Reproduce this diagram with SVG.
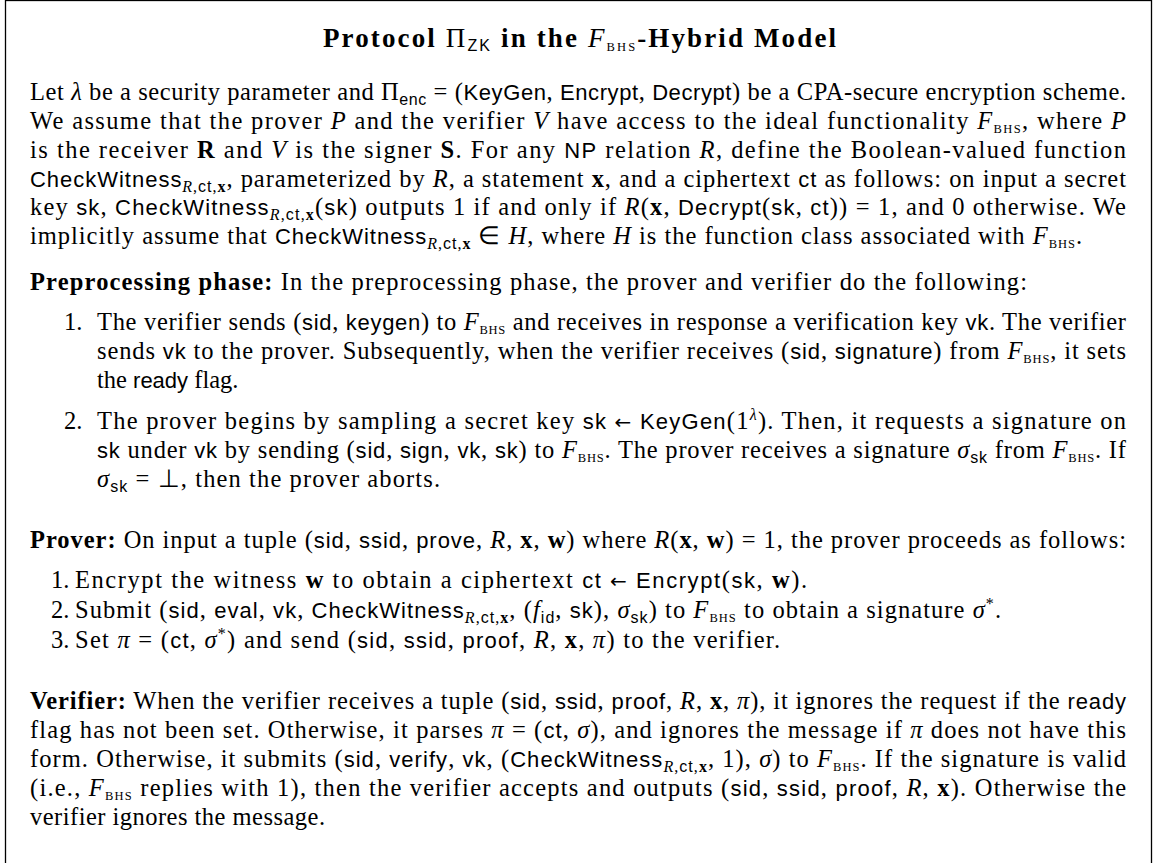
<svg xmlns="http://www.w3.org/2000/svg" width="1155" height="863" viewBox="0 0 1155 863">
<style>
text { font-family: "Liberation Serif", serif; font-size: 24.5px; fill: #000; }
.b { font-weight: bold; }
.n { font-weight: normal; }
.i { font-style: italic; }
.sf { font-family: "Liberation Sans", sans-serif; font-size: 22px; }
.ss { font-family: "Liberation Sans", sans-serif; }
.sub { font-size: 16px; }
.bhs { font-family: "Liberation Serif", serif; font-size: 12.5px; font-style: normal; }
.ar { font-family: "DejaVu Sans", sans-serif; font-size: 20px; }
.ttl { font-size: 27px; }
</style>
<rect x="0" y="0" width="1155" height="863" fill="#fff"/>
<rect id="frame" x="5.5" y="0.5" width="1146" height="900" fill="none" stroke="#000" stroke-width="1.3"/>

<g id="title">
<text x="323" y="47" class="b ttl" textLength="513" lengthAdjust="spacing">Protocol <tspan class="n">Π</tspan><tspan class="ss sub n" dy="4">ZK</tspan><tspan dy="-4"> in the </tspan><tspan class="i n">F</tspan><tspan class="bhs n" dy="4">BHS</tspan><tspan dy="-4">-Hybrid Model</tspan></text>
</g>

<g id="body" transform="translate(0,1.5)">
<g id="intro">
<text x="30" y="98" textLength="1096" lengthAdjust="spacing">Let <tspan class="i">λ</tspan> be a security parameter and Π<tspan class="ss sub" dy="5">enc</tspan><tspan dy="-5"> = (</tspan><tspan class="sf">KeyGen</tspan>, <tspan class="sf">Encrypt</tspan>, <tspan class="sf">Decrypt</tspan>) be a CPA-secure encryption scheme.</text>
<text x="30" y="127" textLength="1096" lengthAdjust="spacing">We assume that the prover <tspan class="i">P</tspan> and the verifier <tspan class="i">V</tspan> have access to the ideal functionality <tspan class="i">F</tspan><tspan class="bhs" dy="4">BHS</tspan><tspan dy="-4">, where </tspan><tspan class="i">P</tspan></text>
<text x="30" y="156" textLength="1096" lengthAdjust="spacing">is the receiver <tspan class="b">R</tspan> and <tspan class="i">V</tspan> is the signer <tspan class="b">S</tspan>. For any <tspan class="sf">NP</tspan> relation <tspan class="i">R</tspan>, define the Boolean-valued function</text>
<text x="30" y="185" textLength="1096" lengthAdjust="spacing"><tspan class="sf">CheckWitness</tspan><tspan class="sub" dy="5"><tspan class="i">R</tspan>,<tspan class="ss">ct</tspan>,<tspan class="b">x</tspan></tspan><tspan dy="-5">, parameterized by </tspan><tspan class="i">R</tspan>, a statement <tspan class="b">x</tspan>, and a ciphertext <tspan class="sf">ct</tspan> as follows: on input a secret</text>
<text x="30" y="213" textLength="1096" lengthAdjust="spacing">key <tspan class="sf">sk</tspan>, <tspan class="sf">CheckWitness</tspan><tspan class="sub" dy="5"><tspan class="i">R</tspan>,<tspan class="ss">ct</tspan>,<tspan class="b">x</tspan></tspan><tspan dy="-5">(</tspan><tspan class="sf">sk</tspan>) outputs 1 if and only if <tspan class="i">R</tspan>(<tspan class="b">x</tspan>, <tspan class="sf">Decrypt</tspan>(<tspan class="sf">sk</tspan>, <tspan class="sf">ct</tspan>)) = 1, and 0 otherwise. We</text>
<text x="30" y="242" textLength="1052" lengthAdjust="spacing">implicitly assume that <tspan class="sf">CheckWitness</tspan><tspan class="sub" dy="5"><tspan class="i">R</tspan>,<tspan class="ss">ct</tspan>,<tspan class="b">x</tspan></tspan><tspan dy="-5"> ∈ </tspan><tspan class="i">H</tspan>, where <tspan class="i">H</tspan> is the function class associated with <tspan class="i">F</tspan><tspan class="bhs" dy="4">BHS</tspan><tspan dy="-4">.</tspan></text>
</g>

<g id="preprocessing">
<text x="30" y="288" textLength="997" lengthAdjust="spacing"><tspan class="b">Preprocessing phase:</tspan> In the preprocessing phase, the prover and verifier do the following:</text>
<text x="64" y="328">1.</text>
<text x="97" y="328" textLength="1029" lengthAdjust="spacing">The verifier sends (<tspan class="sf">sid</tspan>, <tspan class="sf">keygen</tspan>) to <tspan class="i">F</tspan><tspan class="bhs" dy="4">BHS</tspan><tspan dy="-4"> and receives in response a verification key </tspan><tspan class="sf">vk</tspan>. The verifier</text>
<text x="97" y="357" textLength="1029" lengthAdjust="spacing">sends <tspan class="sf">vk</tspan> to the prover. Subsequently, when the verifier receives (<tspan class="sf">sid</tspan>, <tspan class="sf">signature</tspan>) from <tspan class="i">F</tspan><tspan class="bhs" dy="4">BHS</tspan><tspan dy="-4">, it sets</tspan></text>
<text x="97" y="386">the <tspan class="sf">ready</tspan> flag.</text>
<text x="64" y="427">2.</text>
<text x="97" y="427" textLength="1029" lengthAdjust="spacing">The prover begins by sampling a secret key <tspan class="sf">sk</tspan> <tspan class="ar">←</tspan> <tspan class="sf">KeyGen</tspan>(1<tspan class="i sub" dy="-9">λ</tspan><tspan dy="9">). Then, it requests a signature on</tspan></text>
<text x="97" y="456" textLength="1029" lengthAdjust="spacing"><tspan class="sf">sk</tspan> under <tspan class="sf">vk</tspan> by sending (<tspan class="sf">sid</tspan>, <tspan class="sf">sign</tspan>, <tspan class="sf">vk</tspan>, <tspan class="sf">sk</tspan>) to <tspan class="i">F</tspan><tspan class="bhs" dy="4">BHS</tspan><tspan dy="-4">. The prover receives a signature </tspan><tspan class="i">σ</tspan><tspan class="ss sub" dy="5">sk</tspan><tspan dy="-5"> from </tspan><tspan class="i">F</tspan><tspan class="bhs" dy="4">BHS</tspan><tspan dy="-4">. If</tspan></text>
<text x="97" y="485" textLength="343" lengthAdjust="spacing"><tspan class="i">σ</tspan><tspan class="ss sub" dy="5">sk</tspan><tspan dy="-5"> = ⊥, then the prover aborts.</tspan></text>
</g>

<g id="prover">
<text x="30" y="546" textLength="1096" lengthAdjust="spacing"><tspan class="b">Prover:</tspan> On input a tuple (<tspan class="sf">sid</tspan>, <tspan class="sf">ssid</tspan>, <tspan class="sf">prove</tspan>, <tspan class="i">R</tspan>, <tspan class="b">x</tspan>, <tspan class="b">w</tspan>) where <tspan class="i">R</tspan>(<tspan class="b">x</tspan>, <tspan class="b">w</tspan>) = 1, the prover proceeds as follows:</text>
<text x="51" y="586">1.</text>
<text x="75" y="586" textLength="732" lengthAdjust="spacing">Encrypt the witness <tspan class="b">w</tspan> to obtain a ciphertext <tspan class="sf">ct</tspan> <tspan class="ar">←</tspan> <tspan class="sf">Encrypt</tspan>(<tspan class="sf">sk</tspan>, <tspan class="b">w</tspan>).</text>
<text x="51" y="616">2.</text>
<text x="75" y="616" textLength="926" lengthAdjust="spacing">Submit (<tspan class="sf">sid</tspan>, <tspan class="sf">eval</tspan>, <tspan class="sf">vk</tspan>, <tspan class="sf">CheckWitness</tspan><tspan class="sub" dy="5"><tspan class="i">R</tspan>,<tspan class="ss">ct</tspan>,<tspan class="b">x</tspan></tspan><tspan dy="-5">, (</tspan><tspan class="i">f</tspan><tspan class="ss sub" dy="5">id</tspan><tspan dy="-5">, </tspan><tspan class="sf">sk</tspan>), <tspan class="i">σ</tspan><tspan class="ss sub" dy="5">sk</tspan><tspan dy="-5">) to </tspan><tspan class="i">F</tspan><tspan class="bhs" dy="4">BHS</tspan><tspan dy="-4"> to obtain a signature </tspan><tspan class="i">σ</tspan><tspan class="sub" dy="-9">*</tspan><tspan dy="9">.</tspan></text>
<text x="51" y="646">3.</text>
<text x="75" y="646" textLength="705" lengthAdjust="spacing">Set <tspan class="i">π</tspan> = (<tspan class="sf">ct</tspan>, <tspan class="i">σ</tspan><tspan class="sub" dy="-9">*</tspan><tspan dy="9">) and send (</tspan><tspan class="sf">sid</tspan>, <tspan class="sf">ssid</tspan>, <tspan class="sf">proof</tspan>, <tspan class="i">R</tspan>, <tspan class="b">x</tspan>, <tspan class="i">π</tspan>) to the verifier.</text>
</g>

<g id="verifier">
<text x="30" y="707" textLength="1096" lengthAdjust="spacing"><tspan class="b">Verifier:</tspan> When the verifier receives a tuple (<tspan class="sf">sid</tspan>, <tspan class="sf">ssid</tspan>, <tspan class="sf">proof</tspan>, <tspan class="i">R</tspan>, <tspan class="b">x</tspan>, <tspan class="i">π</tspan>), it ignores the request if the <tspan class="sf">ready</tspan></text>
<text x="30" y="736" textLength="1096" lengthAdjust="spacing">flag has not been set. Otherwise, it parses <tspan class="i">π</tspan> = (<tspan class="sf">ct</tspan>, <tspan class="i">σ</tspan>), and ignores the message if <tspan class="i">π</tspan> does not have this</text>
<text x="30" y="765" textLength="1096" lengthAdjust="spacing">form. Otherwise, it submits (<tspan class="sf">sid</tspan>, <tspan class="sf">verify</tspan>, <tspan class="sf">vk</tspan>, (<tspan class="sf">CheckWitness</tspan><tspan class="sub" dy="5"><tspan class="i">R</tspan>,<tspan class="ss">ct</tspan>,<tspan class="b">x</tspan></tspan><tspan dy="-5">, 1), </tspan><tspan class="i">σ</tspan>) to <tspan class="i">F</tspan><tspan class="bhs" dy="4">BHS</tspan><tspan dy="-4">. If the signature is valid</tspan></text>
<text x="30" y="794" textLength="1096" lengthAdjust="spacing">(i.e., <tspan class="i">F</tspan><tspan class="bhs" dy="4">BHS</tspan><tspan dy="-4"> replies with 1), then the verifier accepts and outputs (</tspan><tspan class="sf">sid</tspan>, <tspan class="sf">ssid</tspan>, <tspan class="sf">proof</tspan>, <tspan class="i">R</tspan>, <tspan class="b">x</tspan>). Otherwise the</text>
<text x="30" y="823" textLength="295" lengthAdjust="spacing">verifier ignores the message.</text>
</g>
</g>
</svg>
